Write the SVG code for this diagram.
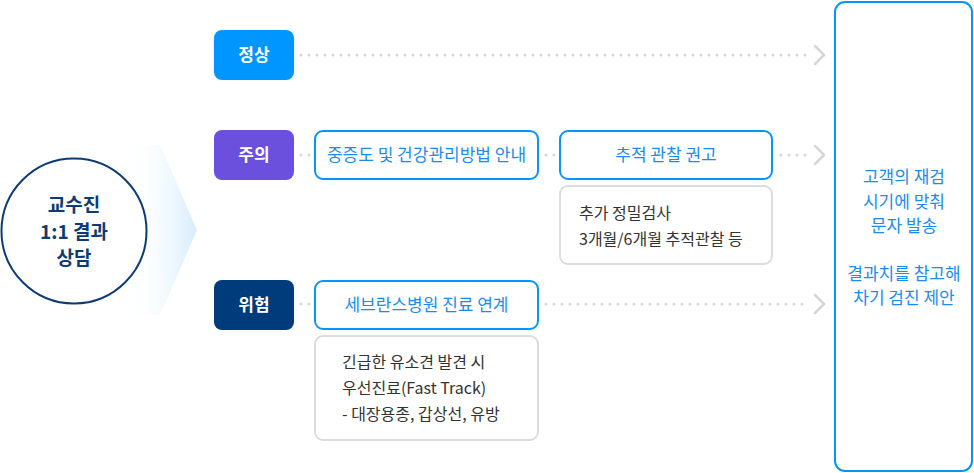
<svg xmlns="http://www.w3.org/2000/svg" width="974" height="473" viewBox="0 0 974 473">
<defs>
<linearGradient id="chev" x1="0" y1="0" x2="1" y2="0">
<stop offset="0" stop-color="#ffffff" stop-opacity="0"/>
<stop offset="0.45" stop-color="#f5fbff" stop-opacity="0.6"/>
<stop offset="1" stop-color="#d6ecfd"/>
</linearGradient>
<style>
text{font-family:"Noto Sans CJK KR","Noto Sans",sans-serif;}
.lvl{font-size:17px;font-weight:bold;fill:#ffffff;text-anchor:middle;}
.act{fill:#ffffff;stroke:#0a94f5;stroke-width:2;}
.actt{font-size:17px;fill:#1a8cf0;text-anchor:middle;}
.note{fill:#ffffff;stroke:#dcdcdc;stroke-width:2;}
.notet{font-size:16px;fill:#333333;}
.dots{stroke:#d6d6d6;stroke-width:3;stroke-linecap:round;stroke-dasharray:0 8;fill:none;}
.arr{stroke:#d6d6d6;stroke-width:2.5;fill:none;stroke-linecap:round;stroke-linejoin:round;}
.ct{font-size:19px;font-weight:bold;fill:#0d3b73;text-anchor:middle;}
.rt{font-size:17px;fill:#1a8cf0;text-anchor:middle;}
</style>
</defs>
<rect width="974" height="473" fill="#ffffff"/>

<polygon points="120,145 160,145 197,230 160,315 120,315" fill="url(#chev)"/>

<g id="connectors">
<line class="dots" x1="301" y1="55" x2="808" y2="55"/>
<polyline class="arr" points="815,46 824,55 815,64"/>
<line class="dots" x1="301" y1="155" x2="310" y2="155"/>
<line class="dots" x1="546" y1="155" x2="555" y2="155"/>
<line class="dots" x1="781" y1="155" x2="808" y2="155"/>
<polyline class="arr" points="815,146 824,155 815,164"/>
<line class="dots" x1="301" y1="304" x2="310" y2="304"/>
<line class="dots" x1="546" y1="304" x2="808" y2="304"/>
<polyline class="arr" points="815,295 824,304 815,313"/>
</g>

<g id="consult">
<circle cx="74" cy="231" r="72.5" fill="#ffffff" stroke="#0d3b73" stroke-width="2"/>
<text class="ct" x="74" y="212">교수진</text>
<text class="ct" x="74" y="239">1:1 결과</text>
<text class="ct" x="74" y="265">상담</text>
</g>

<g id="normal">
<rect x="214" y="30" width="80" height="50" rx="8" fill="#0096ff"/>
<text class="lvl" x="254" y="61">정상</text>
</g>
<g id="caution">
<rect x="214" y="130" width="80" height="50" rx="8" fill="#6a50dc"/>
<text class="lvl" x="254" y="161">주의</text>
</g>
<g id="danger">
<rect x="214" y="280" width="80" height="50" rx="8" fill="#003b7c"/>
<text class="lvl" x="254" y="311">위험</text>
</g>

<g id="guide">
<rect class="act" x="315" y="131" width="223" height="48" rx="8"/>
<text class="actt" x="426.5" y="161">중증도 및 건강관리방법 안내</text>
</g>
<g id="follow">
<rect class="act" x="560" y="131" width="212" height="48" rx="8"/>
<text class="actt" x="666" y="161">추적 관찰 권고</text>
</g>
<g id="follow-note">
<rect class="note" x="560" y="186" width="212" height="78" rx="8"/>
<text class="notet" x="579" y="219">추가 정밀검사</text>
<text class="notet" x="579" y="245">3개월/6개월 추적관찰 등</text>
</g>
<g id="severance">
<rect class="act" x="315" y="281" width="223" height="48" rx="8"/>
<text class="actt" x="426.5" y="311">세브란스병원 진료 연계</text>
</g>
<g id="severance-note">
<rect class="note" x="315" y="336" width="223" height="104" rx="8"/>
<text class="notet" x="342" y="368">긴급한 유소견 발견 시</text>
<text class="notet" x="342" y="394">우선진료(Fast Track)</text>
<text class="notet" x="342" y="420">- 대장용종, 갑상선, 유방</text>
</g>

<g id="message">
<rect x="835" y="2" width="137" height="469" rx="10" fill="#ffffff" stroke="#0a94f5" stroke-width="2"/>
<text class="rt" x="904" y="183">고객의 재검</text>
<text class="rt" x="904" y="208">시기에 맞춰</text>
<text class="rt" x="904" y="232">문자 발송</text>
<text class="rt" x="904" y="280">결과치를 참고해</text>
<text class="rt" x="904" y="304">차기 검진 제안</text>
</g>
</svg>
